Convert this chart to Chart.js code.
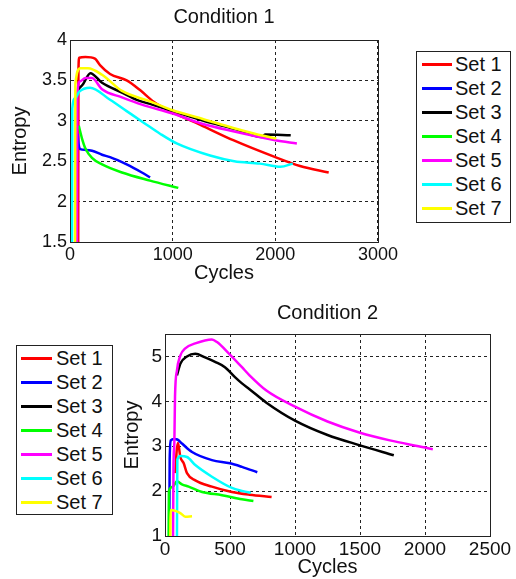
<!DOCTYPE html>
<html>
<head>
<meta charset="utf-8">
<script src="https://cdn.jsdelivr.net/npm/chart.js@4/dist/chart.umd.min.js"></script>
<style>
body { margin: 0; background: #fff; width: 516px; height: 579px; position: relative; overflow: hidden;
       font-family: "Liberation Sans", Arial, sans-serif; }
.box { position: absolute; }
.legend { position: absolute; border: 1px solid #222; background: #fff; box-sizing: border-box; }
.legend .row { position: absolute; left: 0; height: 24px; line-height: 24px; font-size: 20px; color: #111; white-space: nowrap; }
.legend .row span.ln { position: absolute; top: 11px; height: 2.5px; }
</style>
</head>
<body>
<div class="box" style="left:0;top:0;width:400px;height:290px"><canvas id="chart1"></canvas></div>
<div class="box" style="left:110px;top:295px;width:406px;height:284px"><canvas id="chart2"></canvas></div>
<div class="legend" id="legend1" style="left:416px;top:51px;width:95px;height:172px"></div>
<div class="legend" id="legend2" style="left:16px;top:345px;width:97px;height:170px"></div>
<script>
const setNames = ['Set 1', 'Set 2', 'Set 3', 'Set 4', 'Set 5', 'Set 6', 'Set 7'];
const setColors = ['#ff0000', '#0000ff', '#000000', '#00ff00', '#ff00ff', '#00ffff', '#ffff00'];

// Condition 1: [cycles, entropy]
const c1Set1 = [[80,1.5],[82,3.6],[90,3.78],[150,3.79],[243,3.77],[292,3.69],[390,3.58],[552,3.5],[682,3.38],[811,3.24],[974,3.12],[1270,2.95],[1590,2.76],[2000,2.55],[2240,2.44],[2520,2.36]];
const c1Set2 = [[75,2.84],[85,2.7],[100,2.65],[150,2.64],[214,2.63],[312,2.58],[390,2.55],[552,2.46],[700,2.36],[780,2.3]];
const c1Set3 = [[82,3.39],[130,3.46],[198,3.59],[312,3.47],[506,3.35],[650,3.26],[800,3.2],[1000,3.12],[1300,3.0],[1600,2.9],[1870,2.8],[1900,2.83],[2150,2.82]];
const c1Set4 = [[85,2.94],[117,2.78],[149,2.66],[214,2.54],[312,2.46],[506,2.36],[779,2.26],[1055,2.17]];
const c1Set5 = [[68,1.5],[72,3.35],[100,3.49],[150,3.53],[214,3.53],[312,3.39],[506,3.29],[700,3.2],[1000,3.09],[1270,2.97],[1590,2.87],[2000,2.76],[2210,2.72]];
const c1Set6 = [[20,1.5],[22,3.15],[50,3.28],[90,3.36],[195,3.41],[390,3.26],[552,3.12],[714,2.98],[877,2.84],[1039,2.72],[1364,2.57],[1600,2.5],[1851,2.47],[2050,2.43],[2170,2.47]];
const c1Set7 = [[50,1.5],[52,3.45],[100,3.65],[175,3.65],[312,3.57],[506,3.37],[780,3.24],[1000,3.13],[1300,3.02],[1590,2.91],[1800,2.84],[2010,2.78]];

// Condition 2
const c2Set1 = [[80,2.4],[90,2.9],[100,3.07],[118,2.76],[144,2.62],[169,2.4],[233,2.24],[361,2.1],[515,1.98],[650,1.92],[820,1.87]];
const c2Set2 = [[33,1],[36,2.7],[45,3.13],[70,3.16],[95,3.15],[131,3.06],[208,2.87],[361,2.69],[500,2.62],[592,2.54],[710,2.42]];
const c2Set3 = [[92,4.58],[118,4.84],[169,5.0],[233,5.06],[308,4.98],[385,4.88],[461,4.76],[538,4.54],[592,4.4],[650,4.27],[780,3.97],[1000,3.57],[1250,3.25],[1500,3.02],[1760,2.8]];
const c2Set4 = [[28,1],[30,2.0],[60,2.1],[92,2.22],[130,2.15],[182,2.1],[285,1.98],[438,1.91],[592,1.82],[680,1.78]];
const c2Set5 = [[62,1],[65,2.5],[72,3.1],[77,4.1],[92,4.69],[118,5.02],[156,5.18],[233,5.29],[361,5.38],[400,5.32],[490,5.07],[592,4.76],[650,4.58],[780,4.24],[1000,3.88],[1250,3.55],[1500,3.3],[1730,3.13],[2000,2.97],[2060,2.93]];
const c2Set6 = [[92,1],[95,2.7],[118,2.78],[169,2.76],[233,2.58],[361,2.32],[515,2.07],[600,2.0],[660,1.96]];
const c2Set7 = [[41,1],[43,1.58],[80,1.56],[118,1.51],[156,1.43],[208,1.44]];

const cond1 = [c1Set1, c1Set2, c1Set3, c1Set4, c1Set5, c1Set6, c1Set7];
const cond2 = [c2Set1, c2Set2, c2Set3, c2Set4, c2Set5, c2Set6, c2Set7];

Chart.defaults.color = '#111';
Chart.defaults.font.family = '"Liberation Sans", Arial, sans-serif';

const frame = {
    id: 'frame',
    afterDraw(chart) {
        const a = chart.chartArea, ctx = chart.ctx;
        ctx.save();
        ctx.strokeStyle = '#222';
        ctx.lineWidth = 1;
        ctx.strokeRect(Math.round(a.left) + 0.5, Math.round(a.top) + 0.5, Math.round(a.right - a.left), Math.round(a.bottom - a.top));
        ctx.restore();
    }
};

function makeChart(id, title, sets, o) {
    return new Chart(document.getElementById(id), {
        type: 'line',
        data: {
            datasets: sets.map((pts, i) => ({
                label: setNames[i],
                data: pts.map(p => ({ x: p[0], y: p[1] })),
                borderColor: setColors[i],
                borderWidth: 2.5,
                pointRadius: 0,
                cubicInterpolationMode: 'monotone',
                order: sets.length - i,   // later sets on top, like the original
                fill: false
            }))
        },
        options: {
            responsive: true,
            maintainAspectRatio: false,
            animation: false,
            layout: { padding: { left: 0, right: o.right, top: 0, bottom: 0 } },
            plugins: {
                legend: { display: false },
                tooltip: { enabled: false },
                title: {
                    display: true, text: title, fullSize: false, color: '#111',
                    font: { size: 20, weight: 'normal' },
                    padding: { top: o.titleTop, bottom: o.titleBottom }
                }
            },
            scales: {
                x: {
                    type: 'linear', min: 0, max: o.xMax,
                    afterFit: s => { s.height = o.xH; },
                    ticks: { stepSize: o.xStep, font: { size: o.tick }, padding: 2, color: '#111',
                             callback: v => String(v), maxRotation: 0 },
                    grid: { color: '#222', lineWidth: 1, drawTicks: false },
                    border: { color: '#222', dash: [3, 3] },
                    title: { display: true, text: 'Cycles', font: { size: 20 }, color: '#111',
                             padding: { top: 0, bottom: o.xTitlePad } }
                },
                y: {
                    min: o.yMin, max: o.yMax,
                    afterFit: s => { s.width = o.yW; },
                    afterBuildTicks: s => { s.ticks = s.ticks.filter(t => t.value <= o.yLast); },
                    ticks: { stepSize: o.yStep, font: { size: o.tick }, padding: 3, color: '#111',
                             callback: v => String(v) },
                    grid: { color: '#222', lineWidth: 1, drawTicks: false },
                    border: { color: '#222', dash: [3, 3] },
                    title: { display: true, text: 'Entropy', font: { size: 20 }, color: '#111',
                             padding: { top: o.yTitlePad, bottom: 0 } }
                }
            }
        },
        plugins: [frame]
    });
}

makeChart('chart1', 'Condition 1', cond1, {
    right: 22, titleTop: 5, titleBottom: 11, xMax: 3000, xStep: 1000, xH: 48, xTitlePad: 5,
    yMin: 1.5, yMax: 4, yStep: 0.5, yLast: 4, yW: 70, yTitlePad: 8, tick: 18
});
makeChart('chart2', 'Condition 2', cond2, {
    right: 26, titleTop: 6, titleBottom: 9, xMax: 2500, xStep: 500, xH: 43, xTitlePad: 0,
    yMin: 1, yMax: 5.5, yStep: 1, yLast: 5, yW: 55, yTitlePad: 10, tick: 19
});

function buildLegend(id, lineLeft, lineLen, textLeft) {
    const el = document.getElementById(id);
    setNames.forEach((name, i) => {
        const row = document.createElement('div');
        row.className = 'row';
        row.style.top = (i * 24) + 'px';
        row.style.width = '100%';
        const ln = document.createElement('span');
        ln.className = 'ln';
        ln.style.left = lineLeft + 'px';
        ln.style.width = lineLen + 'px';
        ln.style.background = setColors[i];
        const tx = document.createElement('span');
        tx.style.position = 'absolute';
        tx.style.left = textLeft + 'px';
        tx.textContent = name;
        row.appendChild(ln);
        row.appendChild(tx);
        el.appendChild(row);
    });
}
buildLegend('legend1', 5, 30, 38);
buildLegend('legend2', 4, 31, 39);
</script>
</body>
</html>
